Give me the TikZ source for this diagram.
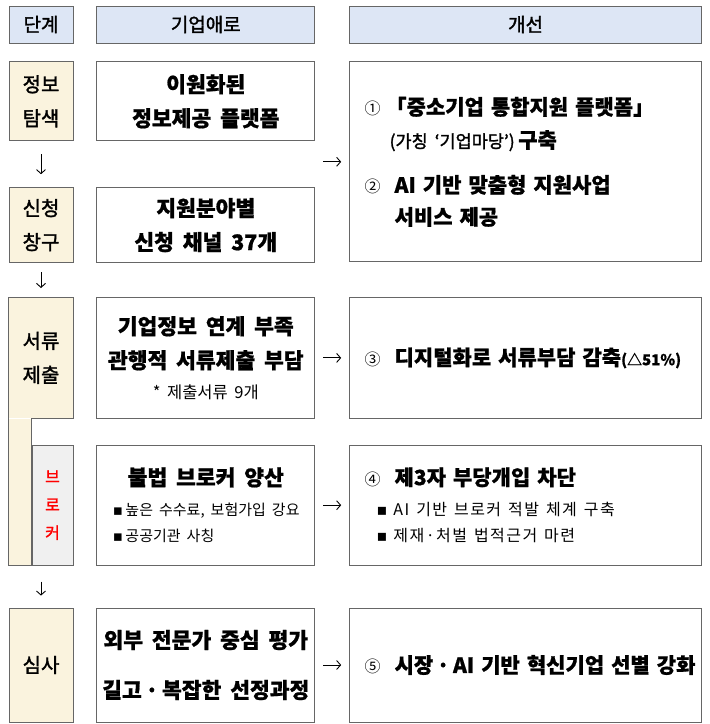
\documentclass[tikz,border=0pt]{standalone}
\usepackage{fontspec}
\newfontfamily\kr{Noto Sans CJK KR}[WordSpace=1.8,BoldFeatures={FakeBold=0.8}]
\newfontfamily\krmid{Noto Sans CJK KR}[WordSpace=1.8,FakeBold=1.6]
\newfontfamily\sym{DejaVu Sans}
\usetikzlibrary{arrows.meta,positioning}
\definecolor{headblue}{RGB}{221,230,245}
\definecolor{stagetan}{RGB}{250,243,222}
\definecolor{brkgray}{RGB}{240,240,240}
\newcommand{\cnum}[1]{\makebox[30pt][l]{\mdseries\fontsize{16}{16}\selectfont #1}}
\newcommand{\ibul}[1]{\makebox[186pt][l]{\mdseries\fontsize{15}{15}\selectfont{\sym ▪}\,#1}}
\newcommand{\rbul}[1]{{\mdseries\fontsize{16}{16}\selectfont\addfontfeature{LetterSpace=9}%
  \hspace*{12pt}{\sym ▪}\hspace{6pt}#1}}
\tikzset{%
  >={Straight Barb[length=4pt,width=9pt]},
  % Specifications for style of nodes:
          base/.style = {rectangle, draw=black!60, line width=0.8pt,
                         inner sep=0pt, text centered, align=center},
          head/.style = {base, fill=headblue, minimum height=37pt,
                         font=\krmid\fontsize{19}{19}\selectfont},
         stage/.style = {base, fill=stagetan, minimum width=64pt,
                         font=\krmid\fontsize{20}{34}\selectfont},
         issue/.style = {base, fill=white, minimum width=218pt,
                         font=\kr\bfseries\fontsize{21.5}{34}\selectfont},
        remedy/.style = {base, fill=white, minimum width=352pt,
                         text width=322pt, inner xsep=15pt, align=left,
                         font=\kr\bfseries\fontsize{21}{34}\selectfont},
        broker/.style = {base, fill=brkgray, minimum width=41pt,
                         minimum height=120pt, text=red,
                         font=\krmid\fontsize{16}{28}\selectfont},
          flow/.style = {->, line width=0.9pt, black},
}
\begin{document}
\begin{tikzpicture}[x=1pt, y=-1pt]
\useasboundingbox (0,0) rectangle (710,724);
% Specification of nodes (position, etc.)
\node (h1) [head, minimum width=64pt] at (41,24.5) {단계};
\node (h2) [head, minimum width=218pt, right=23pt of h1] {기업애로};
\node (h3) [head, minimum width=352pt, right=34pt of h2] {개선};
\node (s1) [stage, minimum height=79pt, below=18pt of h1] {정보\\탐색};
\node (s2) [stage, minimum height=75pt, below=46pt of s1] {신청\\창구};
\node (s3) [stage, draw=none, minimum height=121pt, below=34pt of s2]
                                                    {서류\\제출};
\node (brk) [broker, anchor=north east] at ([yshift=-26pt]s3.south east)
                                                    {브\\로\\커};
\node (s5) [stage, minimum height=114pt, below=42pt of brk.south -| s3]
                                                    {심사};
% the L-shaped stage box round the broker box
\fill[stagetan] (s3.south west) rectangle (brk.south west);
\draw[draw=black!60, line width=0.8pt] (s3.north west) -- (s3.north east)
   -- (s3.south east) -- (brk.west |- s3.south) -- (brk.south west)
   -- (s3.west |- brk.south) -- cycle;
\node (i1) [issue, minimum height=79pt, right=23pt of s1]
                                  {이원화된\\정보제공 플랫폼};
\node (i2) [issue, minimum height=75pt, right=23pt of s2]
                                  {지원분야별\\신청 채널 37개};
\node (i3) [issue, minimum height=121pt, right=23pt of s3]
   {기업정보 연계 부족\\관행적 서류제출 부담\\[-4pt]
    {\mdseries\fontsize{16.5}{16}\selectfont * 제출서류 9개}};
\node (i4) [issue, minimum height=120pt, right=23pt of brk]
   {불법 브로커 양산\\[-3.5pt]\ibul{높은 수수료, 보험가입 강요}\\[-8pt]
    \ibul{공공기관 사칭}};
\node (i5) [issue, minimum height=114pt, right=23pt of s5]
   {외부 전문가 중심 평가\\[16pt]길고\,·\,복잡한 선정과정};
\node (r1) [remedy, minimum height=200pt, below=18pt of h3]
   {\cnum{①}\hspace{-9pt}「중소기업 통합지원 플랫폼」\\[-1pt]
    \hspace*{25pt}{\krmid\mdseries\fontsize{17.5}{15}\selectfont (가칭 ‘기업마당’)}\,구축\\[11pt]
    \cnum{②}AI 기반 맞춤형 지원사업\\[-2pt]
    \hspace*{30pt}서비스 제공};
\node (r3) [remedy, minimum height=121pt, right=34pt of i3]
   {\mbox{\cnum{③}디지털화로 서류부담 감축{\fontsize{15}{15}\selectfont (△51\%)}}};
\node (r4) [remedy, minimum height=120pt, right=34pt of i4]
   {\cnum{④}제3자 부당개입 차단\\[-3.5pt]
    \rbul{AI 기반 브로커 적발 체계 구축}\\[-8pt]
    \rbul{제재·처벌 법적근거 마련}};
\node (r5) [remedy, minimum height=114pt, right=34pt of i5]
   {\mbox{\cnum{⑤}시장\,·\,AI 기반 혁신기업 선별 강화}};
\coordinate (i12) at (i1.east |- r1.west);
\coordinate (s3end) at (s5.north |- brk.south);
% Specification of arrows between nodes specified above
\draw[flow, shorten <=13pt, shorten >=13pt] (s1) -- (s2);
\draw[flow, shorten <=9pt, shorten >=9pt]   (s2) -- (s3);
\draw[flow, shorten <=16pt, shorten >=12pt] (s3end) -- (s5);
\draw[flow, shorten <=8pt, shorten >=8pt]   (i12) -- (r1);
\draw[flow, shorten <=8pt, shorten >=8pt]   (i3) -- (r3);
\draw[flow, shorten <=8pt, shorten >=8pt]   (i4) -- (r4);
\draw[flow, shorten <=8pt, shorten >=8pt]   (i5) -- (r5);
\end{tikzpicture}
\end{document}
